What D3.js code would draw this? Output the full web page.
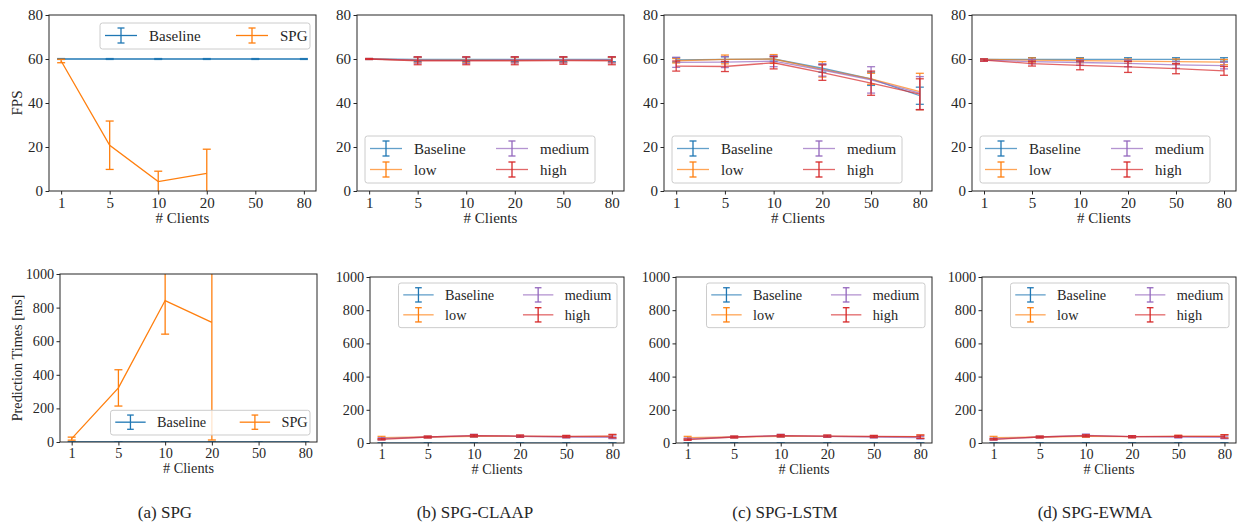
<!DOCTYPE html>
<html>
<head>
<meta charset="utf-8">
<title>SPG client scaling</title>
<script src="https://cdn.jsdelivr.net/npm/d3@7"></script>
<style>
  body { margin: 0; background: #fff; }
  .frame { fill: none; stroke: #262626; stroke-width: 1; }
  .tick line { stroke: #262626; }
  .series { fill: none; stroke-width: 1.3; }
  .err { stroke-width: 1.3; }
  .legend-box { fill: #fff; fill-opacity: 0.8; stroke: #cccccc; stroke-width: 1; }
</style>
</head>
<body>
<div id="fig"></div>
<script>
var W = 1244, H = 524;
var SERIF = '"Liberation Serif", "Times New Roman", Times, "DejaVu Serif", serif';

var clients = ["1", "5", "10", "20", "50", "80"];
var fpsTicks = [0, 20, 40, 60, 80];
var msTicks = [0, 200, 400, 600, 800, 1000];
var captions = ["(a) SPG", "(b) SPG-CLAAP", "(c) SPG-LSTM", "(d) SPG-EWMA"];

// (a) SPG
var spgFpsBase    = [60, 60, 60, 60, 60, 60];
var spgFpsBaseErr = [0.2, 0.2, 0.2, 0.2, 0.2, 0.2];
var spgFps        = [59.1, 20.8, 4.3, 8, null, null];
var spgFpsErr     = [0.8, 11, 4.7, 11, null, null];
var spgMsBase     = [0, 0, 0, 0, 0, 0];
var spgMsBaseErr  = [1, 1, 1, 1, 1, 1];
var spgMs         = [20, 322, 842, 712, null, null];
var spgMsErr      = [9, 108, 200, 700, null, null];

// (b) SPG-CLAAP, FPS
var claapFpsBase = [60, 59.8, 59.8, 59.8, 59.8, 59.8];
var claapFpsLow  = [60, 59.5, 59.5, 59.5, 59.6, 59.5];
var claapFpsMed  = [60, 59.5, 59.4, 59.6, 59.6, 59.6];
var claapFpsHigh = [60, 59.2, 59.2, 59.2, 59.3, 59.2];
var claapFpsBaseErr = [0.2, 1.0, 1.0, 1.0, 1.0, 1.0];
var claapFpsLowErr  = [0.2, 1.2, 1.2, 1.2, 1.2, 1.2];
var claapFpsMedErr  = [0.2, 1.4, 1.4, 1.4, 1.4, 1.4];
var claapFpsHighErr = [0.2, 1.8, 1.8, 1.8, 1.7, 1.8];

// (c) SPG-LSTM, FPS
var lstmFpsBase = [59.6, 59.8, 60, 55.8, 51, 43.3];
var lstmFpsLow  = [59.2, 59.8, 60, 55.3, 51, 45.2];
var lstmFpsMed  = [58.5, 58.6, 59, 55, 50.5, 44.5];
var lstmFpsHigh = [56.8, 56.6, 58.3, 53.8, 49, 44];
var lstmFpsBaseErr = [1, 1.2, 1, 1.8, 3, 3.9];
var lstmFpsLowErr  = [1, 2, 2, 3.5, 2.5, 8.3];
var lstmFpsMedErr  = [2.3, 2.5, 2.5, 2.8, 6, 7.5];
var lstmFpsHighErr = [2.3, 2.3, 2.8, 3.5, 5.5, 7];

// (d) SPG-EWMA, FPS
var ewmaFpsBase = [59.8, 59.8, 59.8, 59.8, 59.8, 59.8];
var ewmaFpsLow  = [59.8, 59.5, 59.3, 59, 58.8, 58.6];
var ewmaFpsMed  = [59.5, 58.8, 58.4, 58, 57.3, 57];
var ewmaFpsHigh = [59.5, 57.9, 57.1, 56.4, 55.6, 54.6];
var ewmaFpsBaseErr = [0.3, 0.8, 0.8, 0.8, 0.8, 0.8];
var ewmaFpsLowErr  = [0.3, 1, 1, 1, 1.2, 1.2];
var ewmaFpsMedErr  = [0.5, 1, 1.2, 1.5, 1.5, 1.5];
var ewmaFpsHighErr = [0.5, 1.1, 2, 2.5, 2.3, 2];

// prediction times [ms]
var msBase    = [0, 0, 0, 0, 0, 0];
var msBaseErr = [1, 1, 1, 1, 1, 1];
var claapMsLow  = [32, 36, 40, 40, 38, 40];
var claapMsMed  = [26, 36, 44, 40, 36, 34];
var claapMsHigh = [22, 36, 45, 42, 40, 42];
var lstmMsLow   = [32, 36, 40, 40, 38, 38];
var lstmMsMed   = [24, 36, 44, 40, 36, 32];
var lstmMsHigh  = [20, 36, 45, 42, 40, 38];
var ewmaMsLow   = [32, 36, 40, 38, 40, 40];
var ewmaMsMed   = [24, 36, 46, 38, 36, 34];
var ewmaMsHigh  = [22, 36, 44, 38, 40, 40];
var msLowErr  = [8, 5, 6, 6, 6, 10];
var msMedErr  = [6, 5, 8, 6, 6, 8];
var msHighErr = [4, 5, 6, 6, 6, 10];

var BLUE = "#1f77b4", ORANGE = "#ff7f0e", PURPLE = "#9467bd", RED = "#d62728";

function four(base, baseErr, low, lowErr, med, medErr, high, highErr) {
  return [
    {name: "Baseline", color: BLUE,   v: base, e: baseErr},
    {name: "low",      color: ORANGE, v: low,  e: lowErr},
    {name: "medium",   color: PURPLE, v: med,  e: medErr},
    {name: "high",     color: RED,    v: high, e: highErr}
  ];
}

var topLeg2 = {w: 210, h: 26, cols: [5, 136], loc: "ur", dx: 6, dy: 8};
var botLeg2 = {w: 210, h: 26, cols: [5, 136], loc: "lr", dx: 7, dy: 7};
var topLeg4 = {w: 230, h: 47, cols: [5, 131], loc: "ll", dx: 8, dy: 8};
var botLeg4 = {w: 230, h: 47, cols: [5, 131], loc: "ur", dx: 7, dy: 6};

var panels = [
  {id: "a1", box: [49, 15, 316, 191], s: 1, yMax: 80, yTicks: fpsTicks, ylabel: "FPS", alpha: 1, leg: topLeg2,
   series: [{name: "Baseline", color: BLUE, v: spgFpsBase, e: spgFpsBaseErr},
            {name: "SPG", color: ORANGE, v: spgFps, e: spgFpsErr}]},
  {id: "b1", box: [357, 15, 624, 191], s: 1, yMax: 80, yTicks: fpsTicks, alpha: 0.7, leg: topLeg4,
   series: four(claapFpsBase, claapFpsBaseErr, claapFpsLow, claapFpsLowErr, claapFpsMed, claapFpsMedErr, claapFpsHigh, claapFpsHighErr)},
  {id: "c1", box: [664, 15, 932, 191], s: 1, yMax: 80, yTicks: fpsTicks, alpha: 0.7, leg: topLeg4,
   series: four(lstmFpsBase, lstmFpsBaseErr, lstmFpsLow, lstmFpsLowErr, lstmFpsMed, lstmFpsMedErr, lstmFpsHigh, lstmFpsHighErr)},
  {id: "d1", box: [972, 15, 1236, 191], s: 1, yMax: 80, yTicks: fpsTicks, alpha: 0.7, leg: topLeg4,
   series: four(ewmaFpsBase, ewmaFpsBaseErr, ewmaFpsLow, ewmaFpsLowErr, ewmaFpsMed, ewmaFpsMedErr, ewmaFpsHigh, ewmaFpsHighErr)},
  {id: "a2", box: [60, 274, 317, 442], s: 0.95, yMax: 1000, yTicks: msTicks, ylabel: "Prediction Times [ms]", alpha: 1, leg: botLeg2,
   series: [{name: "Baseline", color: BLUE, v: spgMsBase, e: spgMsBaseErr},
            {name: "SPG", color: ORANGE, v: spgMs, e: spgMsErr}]},
  {id: "b2", box: [370, 277, 624, 443], s: 0.95, yMax: 1000, yTicks: msTicks, alpha: 0.7, leg: botLeg4,
   series: four(msBase, msBaseErr, claapMsLow, msLowErr, claapMsMed, msMedErr, claapMsHigh, msHighErr)},
  {id: "c2", box: [676, 277, 932, 443], s: 0.95, yMax: 1000, yTicks: msTicks, alpha: 0.7, leg: botLeg4,
   series: four(msBase, msBaseErr, lstmMsLow, msLowErr, lstmMsMed, msMedErr, lstmMsHigh, msHighErr)},
  {id: "d2", box: [982, 277, 1236, 443], s: 0.95, yMax: 1000, yTicks: msTicks, alpha: 0.7, leg: botLeg4,
   series: four(msBase, msBaseErr, ewmaMsLow, msLowErr, ewmaMsMed, msMedErr, ewmaMsHigh, msHighErr)}
];

var captionX = [165, 475, 785, 1095];

var svg = d3.select("#fig").append("svg")
            .attr("width", W)
            .attr("height", H)
            .attr("font-family", SERIF);

var defs = svg.append("defs");

function label(sel) {
  return sel.style("font-family", SERIF).attr("fill", "#262626");
}

function drawLegend(g, p, x0, y0, x1, y1) {
  var L = p.leg, s = p.s;
  var w = L.w * s, h = L.h * s;
  var bx = (L.loc == "ll") ? x0 + L.dx : x1 - L.dx - w;
  var by = (L.loc == "ur") ? y0 + L.dy : y1 - L.dy - h;
  var lg = g.append("g").attr("transform", "translate(" + bx + "," + by + ")");
  lg.append("rect").attr("class", "legend-box")
    .attr("width", w).attr("height", h).attr("rx", 2.5);

  p.series.forEach(function(d, k) {
    // matplotlib fills columns first: Baseline, low | medium, high
    var col = k, row = 0;
    if (p.series.length == 4) { col = k < 2 ? 0 : 1; row = k % 2; }
    var hx = L.cols[col] * s, hy = (12.5 + 21 * row) * s;
    var it = lg.append("g").attr("transform", "translate(" + hx + "," + hy + ")");
    it.append("line").attr("x1", 0).attr("x2", 32 * s).attr("y1", 0).attr("y2", 0)
      .attr("stroke", d.color).attr("stroke-width", 1.3).attr("stroke-opacity", p.alpha);
    var cx = 16 * s, eh = 7.5 * s;
    it.append("line").attr("x1", cx).attr("x2", cx).attr("y1", -eh).attr("y2", eh)
      .attr("stroke", d.color).attr("stroke-width", 1.3);
    [-eh, eh].forEach(function(cy) {
      it.append("line").attr("x1", cx - 3.5 * s).attr("x2", cx + 3.5 * s)
        .attr("y1", cy).attr("y2", cy)
        .attr("stroke", d.color).attr("stroke-width", 1.3);
    });
    label(it.append("text")).attr("x", 44 * s).attr("y", 0).attr("dy", "0.35em")
      .attr("font-size", 15 * s).text(d.name);
  });
}

function drawPanel(p) {
  var x0 = p.box[0], y0 = p.box[1], x1 = p.box[2], y1 = p.box[3];
  var s = p.s, fs = 15 * s;

  var x = d3.scaleLinear().domain([-0.25, clients.length - 0.75]).range([x0, x1]);
  var y = d3.scaleLinear().domain([0, p.yMax]).range([y1, y0]);

  var g = svg.append("g");

  defs.append("clipPath").attr("id", "clip-" + p.id)
      .append("rect").attr("x", x0).attr("y", y0)
      .attr("width", x1 - x0).attr("height", y1 - y0);

  var xa = g.append("g").attr("transform", "translate(0," + y1 + ")")
            .call(d3.axisBottom(x).tickValues(d3.range(clients.length))
                    .tickFormat(function(i) { return clients[i]; })
                    .tickSize(3.5).tickPadding(3 * s));
  var ya = g.append("g").attr("transform", "translate(" + x0 + ",0)")
            .call(d3.axisLeft(y).tickValues(p.yTicks).tickFormat(d3.format("d"))
                    .tickSize(3.5).tickPadding(2.5 * s));
  [xa, ya].forEach(function(a) {
    a.select(".domain").remove();
    a.attr("font-size", fs).attr("font-family", SERIF);
    label(a.selectAll("text"));
  });

  label(g.append("text")).attr("x", (x0 + x1) / 2).attr("y", y1 + 27 * s)
   .attr("dy", "0.35em").attr("text-anchor", "middle").attr("font-size", fs)
   .text("# Clients");

  if (p.ylabel) {
    label(g.append("text"))
     .attr("transform", "translate(17," + (y0 + y1) / 2 + ") rotate(-90)")
     .attr("dy", "0.35em").attr("text-anchor", "middle").attr("font-size", fs)
     .text(p.ylabel);
  }

  var plot = g.append("g").attr("clip-path", "url(#clip-" + p.id + ")");
  var line = d3.line()
               .x(function(d) { return x(d.i); })
               .y(function(d) { return y(d.v); });

  p.series.forEach(function(ser) {
    var pts = ser.v.map(function(v, i) { return {i: i, v: v, e: ser.e[i]}; })
                   .filter(function(d) { return d.v !== null; });
    plot.append("path").datum(pts).attr("class", "series")
        .attr("d", line).attr("stroke", ser.color).attr("stroke-opacity", p.alpha);

    var eb = plot.append("g").attr("stroke", ser.color).attr("class", "err")
                 .attr("stroke-opacity", p.alpha == 1 ? 1 : 0.85);
    eb.selectAll(null).data(pts).enter().append("line")
      .attr("x1", function(d) { return x(d.i); })
      .attr("x2", function(d) { return x(d.i); })
      .attr("y1", function(d) { return y(d.v - d.e); })
      .attr("y2", function(d) { return y(d.v + d.e); });
    [-1, 1].forEach(function(sg) {
      eb.selectAll(null).data(pts).enter().append("line")
        .attr("x1", function(d) { return x(d.i) - 4; })
        .attr("x2", function(d) { return x(d.i) + 4; })
        .attr("y1", function(d) { return y(d.v + sg * d.e); })
        .attr("y2", function(d) { return y(d.v + sg * d.e); });
    });
  });

  g.append("rect").attr("class", "frame")
   .attr("x", x0).attr("y", y0).attr("width", x1 - x0).attr("height", y1 - y0);

  drawLegend(g, p, x0, y0, x1, y1);
}

panels.forEach(drawPanel);

label(svg.selectAll(".caption").data(captions).enter().append("text"))
   .attr("class", "caption")
   .attr("x", function(d, i) { return captionX[i]; })
   .attr("y", 512).attr("dy", "0.35em")
   .attr("text-anchor", "middle").attr("font-size", 17)
   .text(function(d) { return d; });
</script>
</body>
</html>
